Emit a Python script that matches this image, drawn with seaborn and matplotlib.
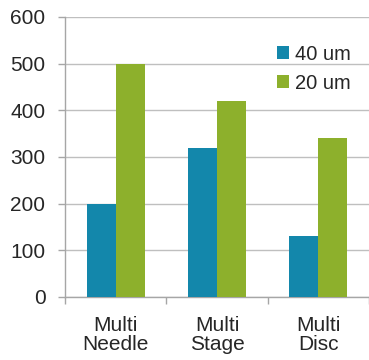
import matplotlib
matplotlib.use('Agg')
import matplotlib.pyplot as plt
import seaborn as sns
import pandas as pd

categories = ["Multi\nNeedle", "Multi\nStage", "Multi\nDisc"]
series_names = ["40 um", "20 um"]
values_40 = [200, 320, 130]
values_20 = [500, 420, 340]
colors = ["#1387ab", "#8db02c"]

df = pd.DataFrame({
    "cat": categories * 2,
    "series": [series_names[0]] * 3 + [series_names[1]] * 3,
    "value": values_40 + values_20,
})

sns.set_style("white")
plt.rcParams['font.family'] = ['Liberation Sans', 'DejaVu Sans']

fig = plt.figure(figsize=(3.69, 3.60), dpi=100)
ax = fig.add_axes([0.176, 0.175, 0.824, 0.778])

sns.barplot(data=df, x="cat", y="value", hue="series", palette=colors,
            width=0.57, saturation=1, ax=ax, zorder=3, linewidth=0)

ax.set_xlim(-0.5, 2.5)
ax.set_ylim(0, 600)
ax.set_yticks(range(0, 601, 100))
ax.yaxis.grid(True, color="#bfbfbf", linewidth=1, zorder=0)
ax.set_axisbelow(True)
ax.set_xlabel("")
ax.set_ylabel("")

for s in ["top", "right"]:
    ax.spines[s].set_visible(False)
for s in ["left", "bottom"]:
    ax.spines[s].set_color("#a6a6a6")
    ax.spines[s].set_linewidth(1)

ax.tick_params(axis="y", which="major", left=True, length=5, width=1,
               color="#a6a6a6", labelsize=15, pad=9)
ax.tick_params(axis="x", which="major", bottom=False, labelsize=15, pad=10)
for lbl in ax.get_xticklabels():
    lbl.set_linespacing(1.0)
ax.set_xticks([-0.5, 0.5, 1.5, 2.5], minor=True)
ax.tick_params(axis="x", which="minor", bottom=True, length=5, width=1,
               color="#a6a6a6")

leg = ax.legend(loc="upper right", bbox_to_anchor=(1.0, 0.965), frameon=False,
                fontsize=14.5, handlelength=0.6, handleheight=0.6,
                handletextpad=0.3, labelspacing=0.5)

fig.savefig("out.png", dpi=100)
